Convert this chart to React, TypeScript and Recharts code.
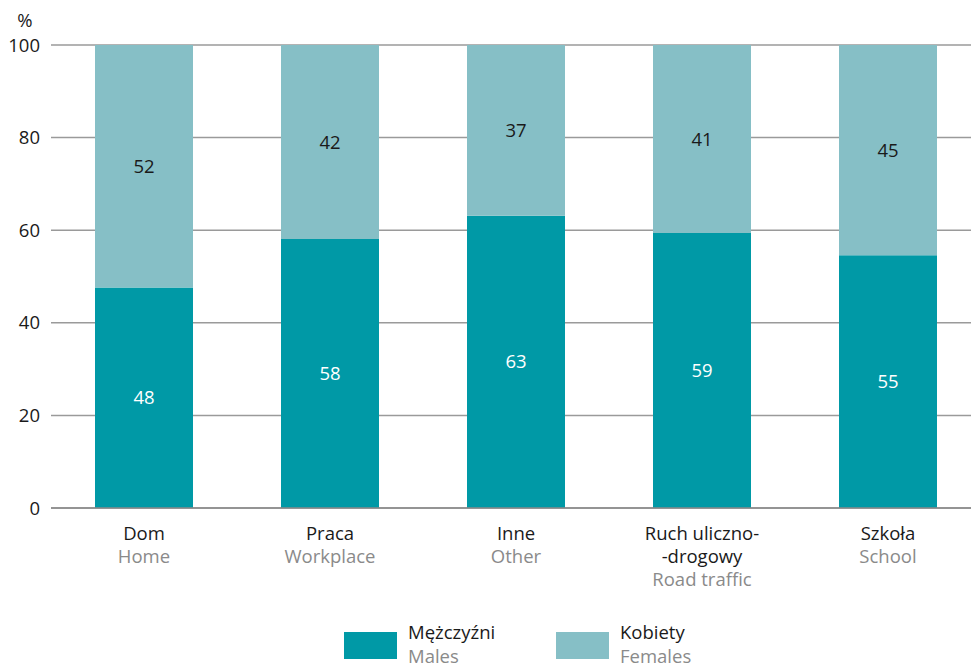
import React from 'react';
import { BarChart, Bar, XAxis, YAxis, CartesianGrid, LabelList, Label } from 'recharts';

const categoriesPl = [['Dom'], ['Praca'], ['Inne'], ['Ruch uliczno-', '-drogowy'], ['Szkoła']];
const categoriesEn = ['Home', 'Workplace', 'Other', 'Road traffic', 'School'];
const males = [47.6, 58.1, 63.1, 59.4, 54.6];
const females = [52.4, 41.9, 36.9, 40.6, 45.4];
const yTicks = [0, 20, 40, 60, 80, 100];

const MALE = '#0099a6';
const FEMALE = '#86bfc6';
const DARK = '#1a1a1a';
const GREY = '#8a8a8a';
const FONT = '"Open Sans", sans-serif';

const data = categoriesEn.map((en, i) => ({
    name: en,
    males: males[i],
    females: females[i],
}));

function CategoryTick(props: any) {
    const { x, y, payload } = props;
    const i = payload.index;
    const pl = categoriesPl[i];
    return (
        <text x={x} y={y} textAnchor="middle" fontSize={18.5} fontFamily={FONT}>
            {pl.map((line, k) => (
                <tspan key={k} x={x} dy={k === 0 ? 24 : 23} fill={DARK}>{line}</tspan>
            ))}
            <tspan x={x} dy={23} fill={GREY}>{categoriesEn[i]}</tspan>
        </text>
    );
}

function LegendItem({ color, pl, en }: { color: string; pl: string; en: string }) {
    return (
        <div style={{ display: 'flex', alignItems: 'flex-start' }}>
            <div style={{ width: 53, height: 27, background: color, marginTop: 12 }} />
            <div style={{ marginLeft: 11, fontSize: 18.5, lineHeight: '24px' }}>
                <div style={{ color: DARK }}>{pl}</div>
                <div style={{ color: GREY }}>{en}</div>
            </div>
        </div>
    );
}

export default function App() {
    return (
        <div style={{ position: 'absolute', left: 0, top: 0, width: 971, height: 664, overflow: 'hidden', fontFamily: FONT, background: '#fff' }}>
            <BarChart width={981} height={664} data={data} margin={{ top: 45, right: 0, left: 0, bottom: 0 }}>
                <CartesianGrid vertical={false} stroke="#9a9a9a" strokeWidth={1.5} />
                <XAxis dataKey="name" height={156} tickLine={false} axisLine={{ stroke: '#8a8a8a', strokeWidth: 1.5 }} tick={<CategoryTick />} interval={0} />
                <YAxis width={51} domain={[0, 100]} ticks={yTicks} tickLine={false} axisLine={false} tickSize={0} tickMargin={11}
                    tick={{ fontSize: 18.5, fill: DARK, fontFamily: FONT }}>
                    <Label content={() => (
                        <text x={25} y={27} textAnchor="middle" fontSize={18.5} fill={DARK} fontFamily={FONT}>%</text>
                    )} />
                </YAxis>
                <Bar dataKey="males" stackId="a" fill={MALE} barSize={98} isAnimationActive={false}>
                    <LabelList dataKey="males" position="center" fill="#ffffff" fontSize={18.5} fontFamily={FONT}
                        formatter={(v: any) => Math.round(Number(v))} />
                </Bar>
                <Bar dataKey="females" stackId="a" fill={FEMALE} barSize={98} isAnimationActive={false}>
                    <LabelList dataKey="females" position="center" fill={DARK} fontSize={18.5} fontFamily={FONT}
                        formatter={(v: any) => Math.round(Number(v))} />
                </Bar>
            </BarChart>
            <div style={{ position: 'absolute', top: 620, left: 344, display: 'flex' }}>
                <div style={{ width: 212 }}>
                    <LegendItem color={MALE} pl="Mężczyźni" en="Males" />
                </div>
                <LegendItem color={FEMALE} pl="Kobiety" en="Females" />
            </div>
        </div>
    );
}
